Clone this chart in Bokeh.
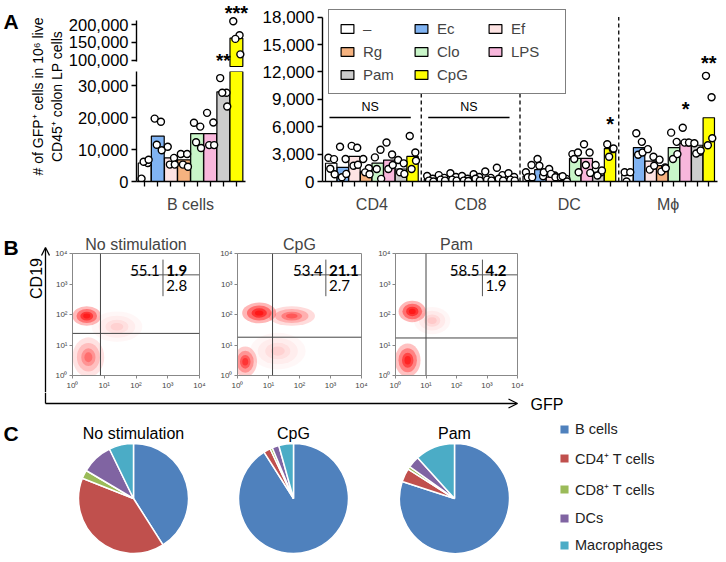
import math
from bokeh.plotting import figure
from bokeh.layouts import column, row
from bokeh.models import (Range1d, FixedTicker, NumeralTickFormatter, Legend, LegendItem,
                          Arrow, OpenHead, Span, Spacer)
from bokeh.core.properties import value
from bokeh.embed import file_html
from bokeh.resources import INLINE

SANS = "Liberation Sans"
FLOWFONT = "Lato"

# ---------------- DATA ----------------
treatments = ["–", "Ec", "Ef", "Rg", "Clo", "LPS", "Pam", "CpG"]
bar_colors = ["#ffffff", "#80b3f2", "#fde3e3", "#f5b27f", "#c9f6c9", "#f8b7dc", "#cccccc", "#ffff00"]

bcell_bars = [5800, 14200, 7400, 6800, 15000, 15000, 28100, 162000]
bcell_pts = [[900, 5800, 6200, 6800], [19700, 18700, 11500, 9800], [10900, 7400, 5300, 5300],
             [8600, 8600, 5300, 4600], [18400, 17200, 12300, 10500], [21500, 18500, 11400, 11400],
             [32400, 27800, 27800, 23500], [209000, 170000, 160000, 117000]]

groups = ["CD4", "CD8", "DC", "Mϕ"]
cd4_bars = [2000, 1550, 2750, 1080, 2020, 2350, 1370, 2750]
cd4_pts = [[2600, 2450, 1400, 800], [3800, 2460, 470, 830], [3900, 3700, 1730, 1840],
           [2460, 1450, 1000, 800], [2640, 3470, 1370, 290], [4270, 2960, 1370, 1800],
           [2350, 1990, 1010, 830], [4990, 3180, 1370, 2280]]
cd8_bars = [250, 350, 300, 250, 400, 350, 400, 350]
cd8_pts = [[600, 300, 100, 0], [700, 400, 200, 100], [900, 500, 200, 100], [600, 300, 100, 50],
           [800, 500, 300, 100], [1100, 400, 200, 100], [1500, 700, 300, 100], [900, 500, 200, 100]]
dc_bars = [580, 1300, 470, 290, 2530, 2530, 1010, 3610]
dc_pts = [[1010, 1800, 470, 470], [2460, 580, 1730, 1010], [1370, 650, 830, 470],
          [470, 290, 580, 0], [3000, 3180, 2460, 1010], [4080, 3180, 1800, 940],
          [1800, 1010, 650, 1200], [4080, 3540, 2710, 3610]]
mf_bars = [700, 3720, 2240, 1730, 3720, 4190, 3970, 6980]
mf_pts = [[1010, 1010, 0], [5280, 4340, 2930, 3180], [3540, 2710, 1300, 1730],
          [2390, 1550, 1080, 1450], [5350, 4340, 2460, 3000], [5890, 4260, 4260, 4260],
          [4190, 3250, 3070, 3400], [11570, 9220, 3970, 4730]]
group_bars = [cd4_bars, cd8_bars, dc_bars, mf_bars]
group_pts = [cd4_pts, cd8_pts, dc_pts, mf_pts]

ns_groups = ["CD4", "CD8"]
ns_level = 7000
# (group, treatment, stars, height of the stars on that segment's axis)
stars = [("B cells", "CpG", "***", 233000),
         ("DC", "CpG", "*", 6300), ("Mϕ", "LPS", "*", 7900), ("Mϕ", "CpG", "**", 13000)]
# the Pam star sits in the axis break: its text rests on the bottom of the upper segment
break_stars = [("B cells", "Pam", "**", 69600)]

ylab1 = "# of GFP⁺ cells in 10⁶ live"
ylab2 = "CD45⁺ colon LP cells"

flow_titles = ["No stimulation", "CpG", "Pam"]
gfp_gate = [7.6, 13.5, 10.0]
cd19_gate = [24.0, 18.0, 17.0]
q_ul = ["55.1", "53.4", "58.5"]
q_ur = ["1.9", "21.1", "4.2"]
q_lr = ["2.8", "2.7", "1.9"]
# clusters: (GFP centre, CD19 centre, GFP spread, CD19 spread, density), in decades
clusters_nostim = [(0.45, 1.95, 0.45, 0.32, 0.95), (0.5, 0.6, 0.5, 0.65, 0.4), (1.4, 1.6, 0.8, 0.5, 0.1)]
clusters_cpg = [(0.7, 2.05, 0.55, 0.34, 1.0), (1.75, 1.95, 0.75, 0.32, 0.5),
                (0.25, 0.45, 0.38, 0.5, 0.7), (1.3, 0.8, 0.9, 0.6, 0.1)]
clusters_pam = [(0.55, 2.1, 0.45, 0.35, 1.0), (0.4, 0.5, 0.42, 0.55, 0.85), (1.2, 1.8, 0.6, 0.45, 0.12)]
flow_clusters = [clusters_nostim, clusters_cpg, clusters_pam]

pie_titles = ["No stimulation", "CpG", "Pam"]
cell_types = ["B cells", "CD4⁺ T cells", "CD8⁺ T cells", "DCs", "Macrophages"]
pie_colors = ["#4f81bd", "#c0504d", "#9bbb59", "#8064a2", "#4bacc6"]
pie_nostim = [41.0, 40.0, 2.5, 9.3, 7.2]
pie_cpg = [91.0, 2.0, 0.7, 2.0, 4.3]
pie_pam = [80.0, 4.0, 0.8, 3.5, 11.7]
pie_data = [pie_nostim, pie_cpg, pie_pam]

# ---------------- helpers ----------------
JITTER = [-0.24, 0.24, -0.08, 0.3]


def base_fig(w, h, xr, yr, left=0, right=0, top=0, bottom=0, axes=True):
    kw = {} if axes else dict(x_axis_location=None, y_axis_location=None)
    p = figure(width=w, height=h, x_range=xr, y_range=yr, output_backend="svg",
               toolbar_location=None, min_border_left=left, min_border_right=right,
               min_border_top=top, min_border_bottom=bottom, **kw)
    p.outline_line_color = None
    p.grid.visible = False
    if not axes and "frame_align" in p.properties():
        p.frame_align = False
    return p


def style_y(ax, ticks, bounds, size="17px"):
    ax.ticker = FixedTicker(ticks=ticks)
    ax.formatter = NumeralTickFormatter(format="0,0")
    ax.bounds = bounds
    ax.axis_line_width = 1.4
    ax.major_tick_line_width = 1.4
    ax.major_tick_out = 5
    ax.major_tick_in = 0
    ax.minor_tick_line_color = None
    ax.major_label_text_font = SANS
    ax.major_label_text_font_size = size
    ax.major_label_text_color = "black"
    ax.major_label_standoff = 3


def style_x(ax, centers, labels, minor):
    ax.ticker = FixedTicker(ticks=centers, minor_ticks=minor)
    ax.major_label_overrides = {c: l for c, l in zip(centers, labels)}
    ax.axis_line_width = 1.4
    ax.major_tick_line_color = None
    ax.major_tick_out = 0
    ax.minor_tick_out = 5
    ax.minor_tick_in = 0
    ax.minor_tick_line_width = 1.3
    ax.minor_tick_line_color = "black"
    ax.major_label_text_font = SANS
    ax.major_label_text_font_size = "16px"
    ax.major_label_standoff = 9


def draw_stars(p, xs, ys, txts, baseline="middle", size="20px"):
    p.text(x=xs, y=ys, text=txts, text_font=value(SANS), text_font_size=size,
           text_font_style="bold", text_align="center", text_baseline=baseline,
           text_color="black")


# ---------------- PANEL A ----------------
labA = base_fig(65, 215, Range1d(0, 65), Range1d(0, 215), axes=False)
labA.text(x=[3], y=[194], text=["A"], text_font=value(SANS), text_font_size="21px",
          text_font_style="bold", text_align="left", text_baseline="alphabetic")
labA.text(x=[37, 56], y=[119, 119], text=[ylab1, ylab2], angle=math.pi / 2,
          text_font=value(SANS), text_font_size="14px", text_align="center",
          text_baseline="middle")

LOW_MAX = 34460      # top of the lower axis segment
UP_BREAK = 83300     # bottom of the bars on the upper segment
bx = [i + 0.625 for i in range(8)]
BX_END = 8.7

bTop = base_fig(185, 71, Range1d(0, BX_END), Range1d(69400, 266700), left=71, right=0,
                top=0, bottom=0)
bTop.xaxis.visible = False
style_y(bTop.yaxis[0], [100000, 150000, 200000], (97000, 211000), size="16.5px")
hi = [i for i in range(8) if bcell_bars[i] > LOW_MAX]
bTop.vbar(x=[bx[i] for i in hi], top=[bcell_bars[i] for i in hi], bottom=UP_BREAK,
          width=0.98, fill_color=[bar_colors[i] for i in hi], line_color="black", line_width=1.2)
px, py = [], []
for i in range(8):
    for k, v in enumerate(bcell_pts[i]):
        if v > LOW_MAX:
            px.append(bx[i] + JITTER[k]); py.append(v)
bTop.scatter(px, py, size=7, fill_color="white", line_color="black", line_width=1.4)

bBot = base_fig(185, 144, Range1d(0, BX_END), Range1d(0, LOW_MAX), left=71, right=0,
                top=0, bottom=32)
style_y(bBot.yaxis[0], [0, 10000, 20000, 30000], (0, LOW_MAX), size="16.5px")
style_x(bBot.xaxis[0], [4.125], ["B cells"], bx)
bBot.xaxis[0].bounds = (0, 8.3)
bBot.vbar(x=bx, top=[min(v, LOW_MAX) for v in bcell_bars], width=0.98,
          fill_color=bar_colors, line_color="black", line_width=1.2)
px, py = [], []
for i in range(8):
    for k, v in enumerate(bcell_pts[i]):
        if v <= LOW_MAX:
            px.append(bx[i] + JITTER[k]); py.append(v)
bBot.scatter(px, py, size=7, fill_color="white", line_color="black", line_width=1.4)

bs = [s for s in stars if s[0] == "B cells"]
draw_stars(bTop, [bx[treatments.index(s[1])] for s in bs], [s[3] for s in bs], [s[2] for s in bs])
draw_stars(bTop, [bx[treatments.index(s[1])] for s in break_stars], [s[3] for s in break_stars],
           [s[2] for s in break_stars], baseline="bottom", size="19px")

# right plot
GP = 8.5


def xpos(g, i):
    return g * GP + 0.75 + i


rightA = base_fig(468, 215, Range1d(0, 4 * GP), Range1d(0, 19820), left=72, right=1,
                  top=0, bottom=32)
style_y(rightA.yaxis[0], list(range(0, 18001, 3000)), (0, 18000))
centers = [g * GP + 4.25 for g in range(4)]
style_x(rightA.xaxis[0], centers, groups, [xpos(g, i) for g in range(4) for i in range(8)])

rightA.segment(x0=[g * GP for g in (1, 2, 3)], y0=0, x1=[g * GP for g in (1, 2, 3)], y1=18000,
               line_color="black", line_width=1.3, line_dash="4 3")

bar_renderers = []
for i, t in enumerate(treatments):
    r = rightA.vbar(x=[xpos(g, i) for g in range(4)], top=[group_bars[g][i] for g in range(4)],
                    width=0.98, fill_color=bar_colors[i], line_color="black", line_width=1.2)
    bar_renderers.append(r)
px, py = [], []
for g in range(4):
    for i in range(8):
        for k, v in enumerate(group_pts[g][i]):
            px.append(xpos(g, i) + JITTER[k]); py.append(v)
rightA.scatter(px, py, size=7, fill_color="white", line_color="black", line_width=1.4)

for gname in ns_groups:
    g = groups.index(gname)
    rightA.segment(x0=[g * GP + 0.6], y0=ns_level, x1=[g * GP + 7.6], y1=ns_level,
                   line_color="black", line_width=1.6)
    rightA.text(x=[g * GP + 4.1], y=[ns_level], text=["NS"], text_font=value(SANS),
                text_font_size="12.5px", text_align="center", text_baseline="bottom",
                y_offset=-4)

rs = [s for s in stars if s[0] in groups]
draw_stars(rightA, [xpos(groups.index(s[0]), treatments.index(s[1])) for s in rs],
           [s[3] for s in rs], [s[2] for s in rs])

legA = Legend(items=[LegendItem(label=t, renderers=[r]) for t, r in zip(treatments, bar_renderers)],
              location=(6, 87), orientation="horizontal", ncols=3, glyph_width=16, glyph_height=11,
              label_height=13, label_width=44, label_standoff=8, spacing=6, padding=10, margin=0,
              border_line_color="black", border_line_width=1.5, label_text_font=SANS,
              label_text_font_size="15px", background_fill_color="white", background_fill_alpha=1)
rightA.add_layout(legA)

rowA = row(labA, column(bTop, bBot), rightA)

# ---------------- PANEL B ----------------
labB = base_fig(50, 177, Range1d(0, 50), Range1d(0, 177), axes=False)
labB.text(x=[3], y=[145], text=["B"], text_font=value(SANS), text_font_size="21px",
          text_font_style="bold", text_align="left", text_baseline="alphabetic")
labB.text(x=[35.5], y=[114], text=["CD19"], angle=math.pi / 2, text_font=value(SANS),
          text_font_size="16px", text_align="center", text_baseline="middle")
labB.add_layout(Arrow(end=OpenHead(size=8, line_width=1.3), x_start=45, y_start=0, x_end=45,
                      y_end=145, line_width=1.3))

sup = {0: "10⁰", 1: "10¹", 2: "10²", 3: "10³", 4: "10⁴"}
geo = [(162, 22, 13), (159, 25, 10), (154, 24, 8)]
flow_figs = []
for j in range(3):
    w, l, r_ = geo[j]
    f = base_fig(w, 177, Range1d(0, 4), Range1d(0, 4), left=l, right=r_, top=38, bottom=14)
    f.outline_line_color = "#888888"
    f.outline_line_width = 1
    f.title.text = flow_titles[j]
    f.title.align = "center"
    f.title.text_font = SANS
    f.title.text_font_size = "16px"
    f.title.text_font_style = "normal"
    f.title.standoff = 2
    for ax in (f.xaxis[0], f.yaxis[0]):
        ax.ticker = FixedTicker(ticks=[0, 1, 2, 3, 4])
        ax.major_label_overrides = sup
        ax.axis_line_color = "#888888"
        ax.major_tick_line_color = "#888888"
        ax.major_tick_out = 3
        ax.major_tick_in = 0
        ax.minor_tick_line_color = None
        ax.major_label_text_font = SANS
        ax.major_label_text_font_size = "8px"
        ax.major_label_text_color = "#444444"
        ax.major_label_standoff = 2
    cl = flow_clusters[j]
    for scale, a in ((1.0, 0.3), (0.72, 0.42), (0.45, 0.6), (0.25, 0.7)):
        f.ellipse(x=[c[0] for c in cl], y=[c[1] for c in cl],
                  width=[2 * c[2] * scale for c in cl], height=[2 * c[3] * scale for c in cl],
                  fill_color="#ff0d0d", fill_alpha=[min(1.0, c[4] * a) for c in cl], line_color=None)
    f.add_layout(Span(location=math.log10(gfp_gate[j]), dimension="height",
                      line_color="#444444", line_width=1))
    f.add_layout(Span(location=math.log10(cd19_gate[j]), dimension="width",
                      line_color="#444444", line_width=1))
    f.segment(x0=[1.83, 2.85], y0=[3.3, 2.6], x1=[4.0, 2.85], y1=[3.3, 3.8],
              line_color="#555555", line_width=1)
    f.text(x=[2.75], y=[3.45], text=[q_ul[j]], text_font=value(FLOWFONT), text_font_size="15px",
           text_align="right", text_baseline="middle")
    f.text(x=[2.95], y=[3.45], text=[q_ur[j]], text_font=value(FLOWFONT), text_font_size="15px",
           text_font_style="bold", text_align="left", text_baseline="middle")
    f.text(x=[2.95], y=[2.95], text=[q_lr[j]], text_font=value(FLOWFONT), text_font_size="15px",
           text_align="left", text_baseline="middle")
    flow_figs.append(f)

rowB = row(labB, *flow_figs, Spacer(width=193, height=177))

arrowFig = base_fig(718, 20, Range1d(0, 718), Range1d(0, 20), axes=False)
arrowFig.add_layout(Arrow(end=None, x_start=45, y_start=20, x_end=45, y_end=9, line_width=1.3))
arrowFig.add_layout(Arrow(end=OpenHead(size=9, line_width=1.3), x_start=45, y_start=9, x_end=517,
                          y_end=9, line_width=1.3))
arrowFig.text(x=[530], y=[8.5], text=["GFP"], text_font=value(SANS), text_font_size="16px",
              text_align="left", text_baseline="alphabetic")

# ---------------- PANEL C ----------------
pieFig = base_fig(718, 142, Range1d(0, 718), Range1d(0, 142), axes=False)
pieFig.text(x=[3], y=[121], text=["C"], text_font=value(SANS), text_font_size="21px",
            text_font_style="bold", text_align="left", text_baseline="alphabetic")
pie_cx = [133, 293, 454]
pie_cy = 56
pie_r = 55
wedge_rs = []
for j in range(3):
    vals = pie_data[j]
    tot = sum(vals)
    cum = [0.0]
    for v in vals:
        cum.append(cum[-1] + v / tot)
    starts = [math.pi / 2 - 2 * math.pi * c for c in cum[:-1]]
    ends = [math.pi / 2 - 2 * math.pi * c for c in cum[1:]]
    wr = pieFig.wedge(x=pie_cx[j], y=pie_cy, radius=pie_r, start_angle=starts, end_angle=ends,
                      direction="clock", fill_color=pie_colors, line_color="white", line_width=1.5)
    wedge_rs.append(wr)
pieFig.text(x=pie_cx, y=[121] * 3, text=pie_titles, text_font=value(SANS), text_font_size="16px",
            text_align="center", text_baseline="middle")
legC = Legend(items=[LegendItem(label=c, renderers=[wedge_rs[0]], index=i)
                     for i, c in enumerate(cell_types)],
              location=(558, 1), orientation="vertical", glyph_width=12, glyph_height=12,
              label_height=12, spacing=11, padding=0, margin=0, label_standoff=5,
              border_line_color=None, background_fill_alpha=0, label_text_font=SANS,
              label_text_font_size="14.5px", label_text_color="#222222")
pieFig.add_layout(legC)

layout = column(rowA, rowB, arrowFig, pieFig)

open("out.html", "w").write(file_html(layout, INLINE))
